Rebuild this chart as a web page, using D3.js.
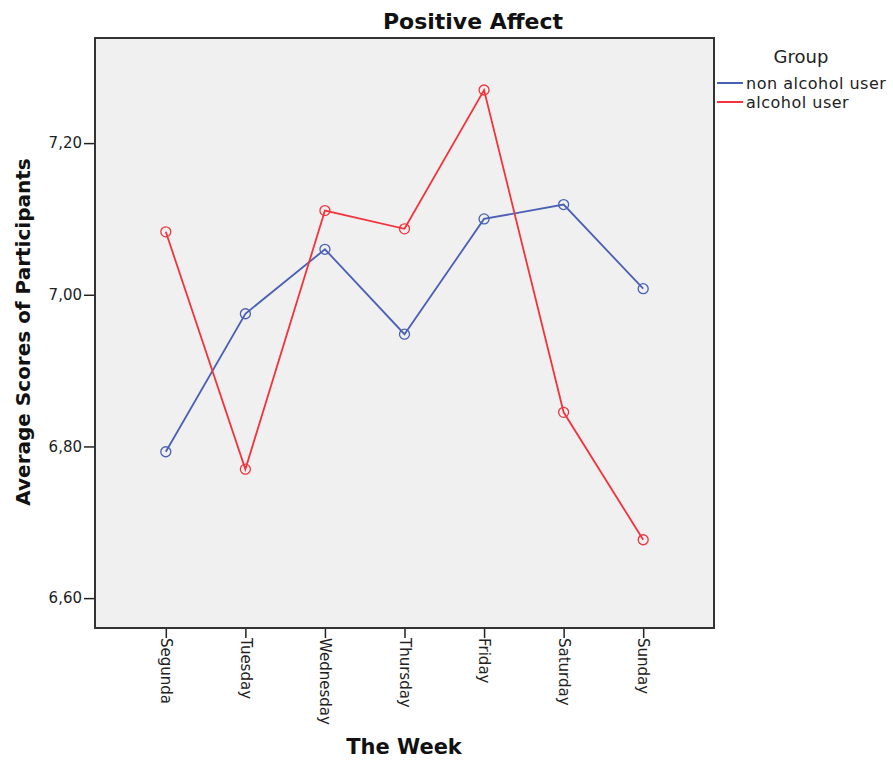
<!DOCTYPE html>
<html><head><meta charset="utf-8">
<script src="https://cdn.jsdelivr.net/npm/d3@7"></script>
<style>body{margin:0;background:#fff}svg{display:block}</style>
</head><body>
<svg id="c" width="893" height="760"></svg>
<script>
const days = ["Segunda","Tuesday","Wednesday","Thursday","Friday","Saturday","Sunday"];
const nonAlcohol = [6.793, 6.975, 7.060, 6.948, 7.100, 7.119, 7.008];
const alcohol = [7.083, 6.770, 7.111, 7.087, 7.270, 6.845, 6.677];
const yTicks = [6.60, 6.80, 7.00, 7.20];
const groups = ["non alcohol user","alcohol user"];
const colors = ["#4a60b4","#f2333c"];

const svg = d3.select("#c");
const L=95, R=714, T=38, B=628;
const x = d3.scalePoint().domain(days).range([L,R]).padding(0.89);
const y = d3.scaleLinear().domain([6.5606, 7.3386]).range([B,T]);

svg.append("rect").attr("x",L).attr("y",T).attr("width",R-L).attr("height",B-T)
  .attr("fill","#f0f0f0");

const font = "DejaVu Sans, sans-serif";
// y axis
const ya = svg.append("g").attr("transform",`translate(${L},0)`)
  .call(d3.axisLeft(y).tickValues(yTicks).tickSize(11).tickPadding(2)
    .tickFormat(d=>d3.format(".2f")(d).replace(".",",")));
ya.select(".domain").remove();
ya.selectAll("line").attr("stroke","#222").attr("stroke-width",1.5);
ya.selectAll("text").attr("font-family",font).attr("font-size",15).attr("fill","#222");

// x axis
const xa = svg.append("g").attr("transform",`translate(0,${B})`)
  .call(d3.axisBottom(x).tickSize(10).tickPadding(2));
xa.select(".domain").remove();
xa.selectAll("line").attr("stroke","#222").attr("stroke-width",1.5);
xa.selectAll("text").attr("font-family",font).attr("font-size",15).attr("fill","#222")
  .attr("transform","rotate(90)").attr("text-anchor","start").attr("dy","0.35em")
  .attr("x",10).attr("y",0);

svg.append("rect").attr("x",L).attr("y",T).attr("width",R-L).attr("height",B-T)
  .attr("fill","none").attr("stroke","#333").attr("stroke-width",2);

const series=[nonAlcohol, alcohol];
const line = d3.line().x((d,i)=>x(days[i])).y(d=>y(d));
series.forEach((s,k)=>{
  svg.append("path").datum(s).attr("d",line).attr("fill","none")
    .attr("stroke",colors[k]).attr("stroke-width",1.8);
  svg.selectAll(null).data(s).enter().append("circle")
    .attr("cx",(d,i)=>x(days[i])).attr("cy",d=>y(d)).attr("r",5)
    .attr("fill","none").attr("stroke",colors[k]).attr("stroke-width",1.3);
});

svg.append("text").attr("x",473).attr("y",29).attr("text-anchor","middle")
  .attr("font-family",font).attr("font-weight","bold").attr("font-size",22).attr("fill","#111")
  .text("Positive Affect");
svg.append("text").attr("x",404).attr("y",754).attr("text-anchor","middle")
  .attr("font-family",font).attr("font-weight","bold").attr("font-size",21).attr("fill","#111")
  .text("The Week");
svg.append("text").attr("transform","translate(30,332) rotate(-90)").attr("text-anchor","middle")
  .attr("font-family",font).attr("font-weight","bold").attr("font-size",20).attr("fill","#111")
  .text("Average Scores of Participants");

// legend
svg.append("text").attr("x",801).attr("y",63).attr("text-anchor","middle")
  .attr("font-family",font).attr("font-size",18).attr("fill","#222").text("Group");
groups.forEach((g,k)=>{
  const yy = 83 + k*19;
  svg.append("line").attr("x1",717).attr("x2",743).attr("y1",yy).attr("y2",yy)
    .attr("stroke",colors[k]).attr("stroke-width",2);
  svg.append("text").attr("x",746).attr("y",yy).attr("dy","0.35em")
    .attr("font-family",font).attr("font-size",16).attr("letter-spacing",0.5).attr("fill","#222").text(g);
});
</script>
</body></html>
